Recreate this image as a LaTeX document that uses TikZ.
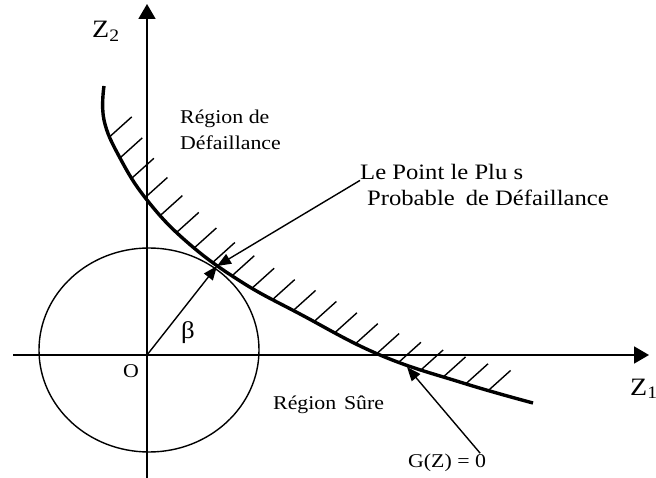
\documentclass[tikz,border=0pt]{standalone}
\usepackage{fontspec}
\setmainfont[FakeStretch=1.12]{Liberation Serif}
\usetikzlibrary{arrows.meta,positioning,decorations.markings}

\begin{document}
\begin{tikzpicture}[x=1pt, y=-1pt,
    axis/.style={line width=1.8pt, -{Triangle[length=15pt, width=17pt]}},
    limit/.style={line width=3.4pt},
    hatch/.style={line width=1.4pt},
    lbl/.style={font=\fontsize{19.5}{23}\selectfont, inner sep=0pt, anchor=base west},
    zlbl/.style={font=\fontsize{25}{28}\selectfont, inner sep=0pt, anchor=base west},
    arr/.style={line width=1.4pt, -{Triangle[length=14pt, width=11pt]}}
  ]
  \useasboundingbox (0,0) rectangle (656,478);
  % axes
  \coordinate (O) at (147,355);
  \coordinate (z1start) at (13,355);
  \coordinate (z1end) at (649,355);
  \coordinate (z2start) at (147,478);
  \coordinate (z2end) at (147,4);
  \draw[axis] (z1start) -- (z1end);
  \draw[axis] (z2start) -- (z2end);
  \node[zlbl] (z1) at (630,395) {Z\textsubscript{1}};
  \node[zlbl] (z2) at (92,38) {Z\textsubscript{2}};
  \node[lbl] (orig) at (123,377) {O};

  % standard normal circle
  \draw[line width=1.4pt] (149,350) ellipse [x radius=110pt, y radius=102pt];

  % limit state G(Z)=0 with hatching on the failure side
  \draw[limit, postaction={decorate}, decoration={markings,
      mark=between positions 52pt and -24pt step 23.5pt with
      {\pgftransformresetnontranslations \draw[hatch] (0,0) -- (42:30pt);}}]
    plot[smooth, tension=0.7] coordinates {(104,86) (104,120) (120,158)
      (147,200) (187,242) (240,281) (300,314) (380,355) (463,383) (533,403)};

  % design point
  \coordinate (T) at (217,266);
  \draw[arr] (O) -- (T);
  \node[font=\fontsize{24}{26}\selectfont, inner sep=0pt] (beta) at (188,333) {β};

  \node[lbl] (failreg) at (180,124) {Région de};
  \node[lbl] (failreg2) at (180,150) {Défaillance};
  \node[lbl, font=\fontsize{22}{25}\selectfont] (mpp1) at (360,180) {Le Point le Plu s};
  \node[lbl, font=\fontsize{22}{25}\selectfont] (mpp2) at (367,206) {Probable\hspace{.5em}de Défaillance};
  \draw[arr] (mpp1.south west) -- (T);

  \node[lbl] (safe) at (273,409) {Région\hspace{.4em}Sûre};
  \node[lbl] (gz) at (408,467) {G(Z) = 0};
  \coordinate (gzhead) at (407,367);
  \draw[arr] ([xshift=-6pt]gz.north east) -- (gzhead);
\end{tikzpicture}
\end{document}
